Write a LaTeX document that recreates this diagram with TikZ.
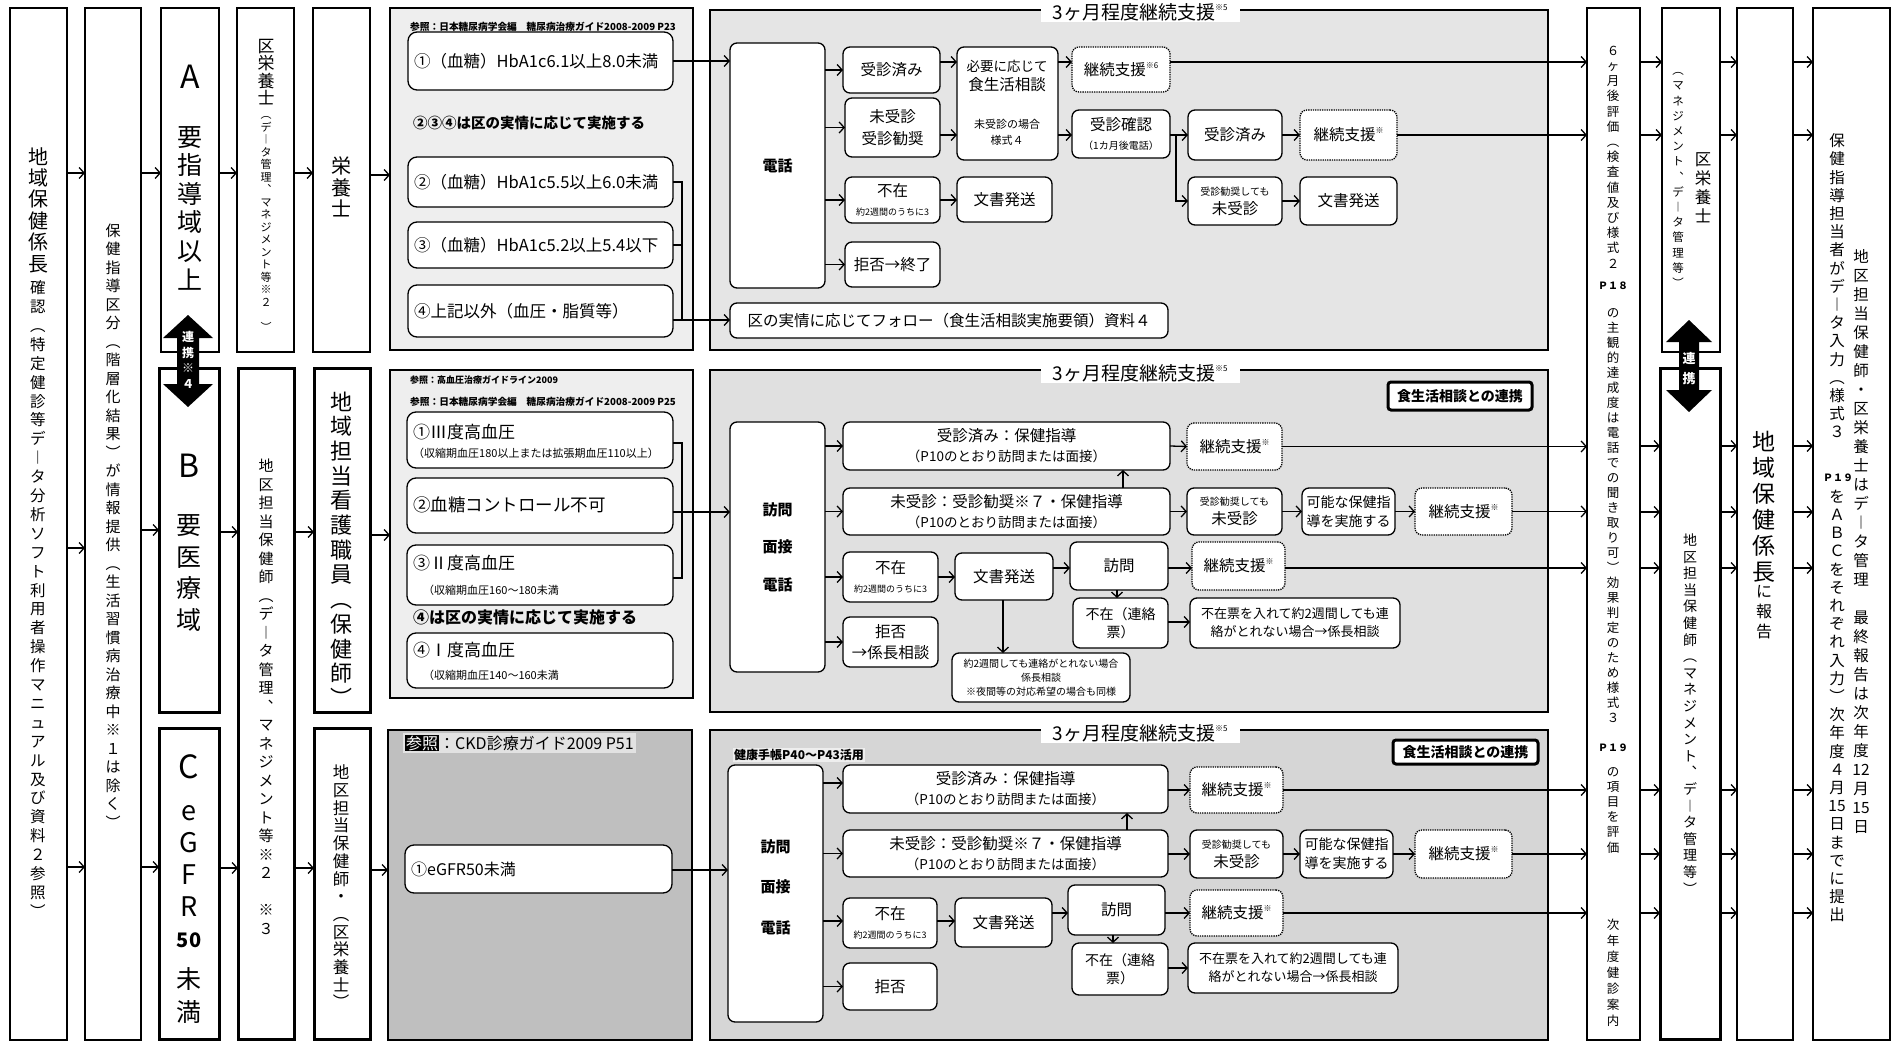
\documentclass[tikz,border=0pt]{standalone}
\usepackage{fontspec}
\setmainfont{Noto Sans CJK JP}
\usetikzlibrary{arrows.meta}
\makeatletter
\def\vt@app#1{\ifx\vt@acc\@empty\def\vt@acc{#1}\else\expandafter\def\expandafter\vt@acc\expandafter{\vt@acc\\#1}\fi}
\newcommand\vtext[1]{\let\vt@acc\@empty\@tfor\vt@c:=#1\do{\expandafter\vt@app\expandafter{\vt@c}}\vt@acc}
\makeatother
\newcommand\fs[2]{\fontsize{#1}{#2}\selectfont}
\newcommand\bx[7][]{\node[inner sep=0pt,outer sep=0pt,minimum width={#4-#2},minimum height={#5-#3},#1] (#6) at ({(#2+#4)/2},{(#3+#5)/2}) {#7};}
\newcommand\sm[1]{\raisebox{.45em}{\fs{8}{8}#1}}
\begin{document}
\begin{tikzpicture}[x=1pt,y=-1pt,
  col/.style={draw,line width=1.1pt,fill=white},
  tcol/.style={draw,line width=3pt,fill=white},
  pan/.style={draw,line width=1.2pt},
  rb/.style={draw,line width=1.3pt,rounded corners=7pt,fill=white,align=center,font=\fs{15.5}{19}},
  db/.style={rb,densely dotted},
  lb/.style={draw,line width=1.3pt,rounded corners=9pt,fill=white},
  vt/.style={align=center,inner sep=0pt},
  tx/.style={inner sep=0pt,anchor=west},
  arr/.style={line width=1.3pt,-{Straight Barb[length=5pt,width=11pt]}},
  ln/.style={line width=1.3pt},
  ttl/.style={fill=white,inner xsep=12pt,inner ysep=1pt,font=\fs{19}{20}},
]
\useasboundingbox (0,0) rectangle (1896,1043);
\fill[white] (0,0) rectangle (1896,1043);

% ---------------- left columns
\bx[col]{10}{8}{67}{1040}{c1}{}
\bx[col]{85}{8}{141}{1040}{c2}{}
\bx[col]{161}{8}{219}{352}{cA}{}
\bx[tcol]{159}{368}{219}{712}{cB}{}
\bx[tcol]{159}{728}{219}{1039}{cC}{}
\bx[col]{237}{8}{294}{352}{d1}{}
\bx[tcol]{238}{368}{294}{1039}{d2}{}
\bx[col]{313}{8}{370}{352}{e1}{}
\bx[tcol]{314}{368}{370}{712}{e2}{}
\bx[tcol]{314}{728}{370}{1039}{e3}{}

\node[vt,font=\fs{20}{21.4}] (c1t1) at (38,210) {\vtext{地域保健係長}};
\node[vt,font=\fs{15.5}{18.9}] (c1t2) at (38,599) {\vtext{確認︵特定健診等デ︱タ分析ソフト利用者操作マニュアル及び資料２参照︶}};
\node[vt,font=\fs{15}{18.5}] (c2t) at (113,526) {\vtext{保健指導区分︵階層化結果︶が情報提供︵生活習慣病治療中※１は除く︶}};
\node[font=\fs{32}{32},inner sep=0pt] (cAt1) at (190,77) {A};
\node[vt,font=\fs{25}{28.6}] (cAt2) at (190,208) {\vtext{要指導域以上}};
\node[font=\fs{32}{32},inner sep=0pt] (cBt1) at (189,466) {B};
\node[vt,font=\fs{25}{31.5}] (cBt2) at (189,573) {\vtext{要医療域}};
\node[font=\fs{32}{32},inner sep=0pt] (cCt1) at (189,767) {C};
\node[vt,font=\fs{27}{32}] (cCt2) at (189,861) {\vtext{eGFR}};
\node[font=\bfseries\fs{20}{20},inner sep=0pt] (cCt3) at (189,940) {50};
\node[vt,font=\fs{25}{33}] (cCt4) at (189,995) {\vtext{未満}};
\node[vt,font=\fs{17}{17.5}] (d1t1) at (266,72) {\vtext{区栄養士}};
\node[vt,font=\fs{11}{12.5}] (d1t2) at (266,224) {\vtext{︵デ︱タ管理︑マネジメント等※２{\mbox{}}︶}};
\node[vt,font=\fs{15}{18.5}] (d2t) at (266,697) {\vtext{地区担当保健師︵デ︱タ管理︑マネジメント等※２{\mbox{}}※３}};
\node[vt,font=\fs{20}{21.5}] (e1t) at (341,187) {\vtext{栄養士}};
\node[vt,font=\fs{22}{24.7}] (e2t) at (341,549) {\vtext{地域担当看護職員︵保健師︶}};
\node[vt,font=\fs{16.5}{17.7}] (e3t) at (341,887) {\vtext{地区担当保健師・︵区栄養士︶}};

% ---------------- panels
\bx[pan,fill=gray!13]{390}{8}{693}{350}{p1l}{}
\bx[pan,fill=gray!20]{710}{10}{1548}{350}{p1r}{}
\bx[pan,fill=gray!13]{390}{370}{693}{698}{p2l}{}
\bx[pan,fill=gray!24]{710}{370}{1548}{712}{p2r}{}
\bx[pan,fill=gray!50]{388}{730}{692}{1040}{p3l}{}
\bx[pan,fill=gray!32]{710}{730}{1548}{1040}{p3r}{}
\node[ttl] (t1) at (1140,12) {3ヶ月程度継続支援\sm{※5}};
\node[ttl] (t2) at (1140,373) {3ヶ月程度継続支援\sm{※5}};
\node[ttl] (t3) at (1140,733) {3ヶ月程度継続支援\sm{※5}};

% ---------------- top-left
\node[tx,font=\bfseries\fs{9.7}{10}] (ref1) at (410,27) {参照：日本糖尿病学会編　糖尿病治療ガイド2008-2009 P23};
\bx[lb]{408}{32}{673}{90}{a1}{}
\node[tx,font=\fs{16.5}{17}] (a1t) at ([xshift=6pt]a1.west) {①（血糖）HbA1c6.1以上8.0未満};
\node[tx,font=\bfseries\fs{14.5}{15}] (n1) at (413,123) {②③④は区の実情に応じて実施する};
\bx[lb]{408}{157}{673}{207}{a2}{}
\node[tx,font=\fs{16.5}{17}] (a2t) at ([xshift=6pt]a2.west) {②（血糖）HbA1c5.5以上6.0未満};
\bx[lb]{408}{222}{673}{268}{a3}{}
\node[tx,font=\fs{16.5}{17}] (a3t) at ([xshift=6pt]a3.west) {③（血糖）HbA1c5.2以上5.4以下};
\bx[lb]{408}{285}{673}{337}{a4}{}
\node[tx,font=\fs{16.5}{17}] (a4t) at ([xshift=6pt]a4.west) {④上記以外（血圧・脂質等）};

% ---------------- top-right
\bx[rb,font=\bfseries\fs{15}{18}]{730}{43}{825}{288}{tel}{電話}
\bx[rb]{843}{47}{940}{93}{ts1}{受診済み}
\bx[rb,font=\fs{15.5}{22}]{845}{98}{940}{157}{ts2}{未受診\\受診勧奨}
\bx[rb]{845}{177}{940}{223}{ts3}{不在\\{\fs{9}{10}約2週間のうちに3}}
\bx[rb]{845}{242}{940}{287}{ts4}{拒否→終了}
\bx[rb]{957}{47}{1058}{160}{need}{}
\node[vt,font=\fs{15.5}{19}] (needt1) at (1007,76) {{\fs{13.5}{15}必要に応じて}\\食生活相談};
\node[vt,font=\fs{11}{16}] (needt2) at (1007,132) {未受診の場合\\様式４};
\bx[rb]{957}{177}{1052}{222}{doc1}{文書発送}
\bx[db]{1072}{47}{1170}{92}{cont6}{継続支援\sm{※6}}
\bx[rb]{1072}{110}{1170}{158}{conf}{受診確認\\{\fs{10}{11}（1カ月後電話）}}
\bx[rb]{1188}{110}{1282}{160}{js2}{受診済み}
\bx[db]{1300}{110}{1397}{160}{cont2}{継続支援\sm{※}}
\bx[rb]{1188}{177}{1282}{225}{nv}{{\fs{10}{11}受診勧奨しても}\\未受診}
\bx[rb]{1300}{177}{1397}{225}{doc2}{文書発送}
\bx[rb]{730}{303}{1168}{338}{follow}{区の実情に応じてフォロー（食生活相談実施要領）資料４}

% ---------------- middle-left
\node[tx,font=\bfseries\fs{9}{10}] (ref2a) at (410,380) {参照：高血圧治療ガイドライン2009};
\node[tx,font=\bfseries\fs{9.7}{10}] (ref2b) at (410,402) {参照：日本糖尿病学会編　糖尿病治療ガイド2008-2009 P25};
\bx[lb]{407}{412}{673}{468}{m1}{}
\node[tx,font=\fs{17}{17}] (m1t1) at (413,432) {①Ⅲ度高血圧};
\node[tx,font=\fs{11}{11}] (m1t2) at (413,453) {（収縮期血圧180以上または拡張期血圧110以上）};
\bx[lb]{407}{478}{673}{533}{m2}{}
\node[tx,font=\fs{17.5}{18}] (m2t) at (413,505) {②血糖コントロール不可};
\bx[lb]{407}{545}{673}{605}{m3}{}
\node[tx,font=\fs{17}{17}] (m3t1) at (413,563) {③Ⅱ度高血圧};
\node[tx,font=\fs{11}{11}] (m3t2) at (423,590) {（収縮期血圧160～180未満};
\node[tx,font=\bfseries\fs{16}{16}] (n2) at (413,617) {④は区の実情に応じて実施する};
\bx[lb]{407}{633}{673}{688}{m4}{}
\node[tx,font=\fs{17}{17}] (m4t1) at (413,650) {④Ⅰ度高血圧};
\node[tx,font=\fs{11}{11}] (m4t2) at (423,675) {（収縮期血圧140～160未満};

% ---------------- middle-right
\bx[rb,font=\bfseries\fs{15}{37.5}]{730}{422}{825}{672}{mtel}{訪問\\面接\\電話}
\bx[rb,font=\fs{15.5}{20}]{843}{422}{1170}{470}{mjs}{受診済み：保健指導\\{\fs{13.5}{14}（P10のとおり訪問または面接）}}
\bx[rb,font=\fs{15.5}{20}]{843}{488}{1170}{535}{mnv}{未受診：受診勧奨※７・保健指導\\{\fs{13.5}{14}（P10のとおり訪問または面接）}}
\bx[rb]{843}{552}{938}{602}{mab}{不在\\{\fs{9}{10}約2週間のうちに3}}
\bx[rb,font=\fs{15.5}{21}]{843}{617}{938}{667}{mref}{拒否\\→係長相談}
\bx[rb]{955}{553}{1053}{600}{mdoc}{文書発送}
\bx[rb]{1070}{542}{1168}{590}{mvis}{訪問}
\bx[rb,font=\fs{14}{18}]{1073}{598}{1168}{648}{mabs}{不在（連絡\\票）}
\bx[rb,font=\fs{10}{14}]{952}{653}{1130}{702}{mcall}{約2週間しても連絡がとれない場合\\係長相談\\※夜間等の対応希望の場合も同様}
\bx[db]{1187}{423}{1282}{470}{mcont1}{継続支援\sm{※}}
\bx[rb]{1187}{488}{1282}{535}{mnv2}{{\fs{10}{11}受診勧奨しても}\\未受診}
\bx[rb,font=\fs{14}{19}]{1302}{488}{1395}{535}{mposs}{可能な保健指\\導を実施する}
\bx[db]{1415}{488}{1512}{535}{mcont2}{継続支援\sm{※}}
\bx[db]{1192}{542}{1285}{590}{mcont3}{継続支援\sm{※}}
\bx[rb,font=\fs{13}{18}]{1190}{598}{1400}{648}{mnote}{不在票を入れて約2週間しても連\\絡がとれない場合→係長相談}
\bx[draw,line width=3pt,rounded corners=3pt,fill=white,font=\bfseries\fs{14}{14}]{1388}{382}{1532}{410}{mlink}{食生活相談との連携}

% ---------------- bottom-left
\node[tx,font=\fs{16}{16},fill=white,fill opacity=0.55,text opacity=1,inner sep=2pt] (ref3) at (403,743) {\setlength{\fboxsep}{1pt}\colorbox{black}{\textcolor{white}{参照}}：CKD診療ガイド2009 P51};
\bx[lb]{405}{845}{672}{893}{beg}{}
\node[tx,font=\fs{16}{16}] (begt) at ([xshift=6pt]beg.west) {①eGFR50未満};

% ---------------- bottom-right
\node[tx,font=\bfseries\fs{12}{12},fill=white,fill opacity=0.6,text opacity=1,inner sep=1pt] (bref0) at (733,755) {健康手帳P40～P43活用};
\bx[rb]{728}{765}{823}{1022}{btel}{}
\node[vt,font=\bfseries\fs{15}{40.5}] (btelt) at (775.5,887) {訪問\\面接\\電話};
\bx[rb,font=\fs{15.5}{20}]{843}{765}{1168}{813}{bjs}{受診済み：保健指導\\{\fs{13.5}{14}（P10のとおり訪問または面接）}}
\bx[rb,font=\fs{15.5}{20}]{843}{830}{1168}{877}{bnv}{未受診：受診勧奨※７・保健指導\\{\fs{13.5}{14}（P10のとおり訪問または面接）}}
\bx[rb]{843}{898}{937}{948}{bab}{不在\\{\fs{9}{10}約2週間のうちに3}}
\bx[rb]{843}{963}{937}{1010}{bref}{拒否}
\bx[rb]{955}{898}{1052}{947}{bdoc}{文書発送}
\bx[rb]{1068}{885}{1165}{935}{bvis}{訪問}
\bx[rb,font=\fs{14}{18}]{1072}{943}{1168}{995}{babs}{不在（連絡\\票）}
\bx[db]{1190}{767}{1283}{813}{bcont1}{継続支援\sm{※}}
\bx[rb]{1190}{830}{1283}{878}{bnv2}{{\fs{10}{11}受診勧奨しても}\\未受診}
\bx[rb,font=\fs{14}{19}]{1300}{830}{1393}{878}{bposs}{可能な保健指\\導を実施する}
\bx[db]{1415}{830}{1512}{878}{bcont2}{継続支援\sm{※}}
\bx[db]{1190}{890}{1283}{936}{bcont3}{継続支援\sm{※}}
\bx[rb,font=\fs{13}{18}]{1188}{943}{1398}{993}{bnote}{不在票を入れて約2週間しても連\\絡がとれない場合→係長相談}
\bx[draw,line width=3pt,rounded corners=3pt,fill=white,font=\bfseries\fs{14}{14}]{1393}{740}{1538}{764}{blink}{食生活相談との連携}

% ---------------- right columns
\bx[col]{1587}{8}{1640}{1040}{r1}{}
\bx[col]{1662}{8}{1720}{352}{r2a}{}
\bx[tcol]{1660}{368}{1720}{1039}{r2b}{}
\bx[col]{1737}{8}{1793}{1040}{r3}{}
\bx[col]{1813}{8}{1890}{1040}{r4}{}
\node[vt,font=\fs{12.5}{15.2}] (r1t1) at (1613,157) {\vtext{６ヶ月後評価︵検査値及び様式２}};
\node[font=\bfseries\fs{10}{10},inner sep=0pt] (r1p1) at (1613,286) {Ｐ１８};
\node[vt,font=\fs{12.5}{15}] (r1t2) at (1613,516) {\vtext{の主観的達成度は電話での聞き取り可︶効果判定のため様式３}};
\node[font=\bfseries\fs{10}{10},inner sep=0pt] (r1p2) at (1613,748) {Ｐ１９};
\node[vt,font=\fs{12.5}{15.2}] (r1t3) at (1613,810) {\vtext{の項目を評価}};
\node[vt,font=\fs{12.5}{16}] (r1t4) at (1613,973) {\vtext{次年度健診案内}};
\node[vt,font=\fs{16.5}{19}] (r2t1) at (1703,188) {\vtext{区栄養士}};
\node[vt,font=\fs{11.5}{15.2}] (r2t2) at (1678,180) {\vtext{︵マネジメント︑デ︱タ管理等︶}};
\node[vt,font=\fs{14}{16.6}] (r2t3) at (1690,714) {\vtext{地区担当保健師︵マネジメント︑デ︱タ管理等︶}};
\node[vt,font=\fs{23}{26}] (r3t1) at (1764,507) {\vtext{地域保健係長}};
\node[vt,font=\fs{16}{20}] (r3t2) at (1764,612) {\vtext{に報告}};
\node[vt,font=\fs{15.5}{19}] (r4t1) at (1861,542) {\vtext{地区担当保健師・区栄養士はデ︱タ管理{\mbox{}}最終報告は次年度{12}月{15}日}};
\node[vt,font=\fs{15.5}{18.2}] (r4t2) at (1837,286) {\vtext{保健指導担当者がデ︱タ入力︵様式３}};
\node[font=\bfseries\fs{10}{10},inner sep=0pt] (r4p) at (1838,478) {Ｐ１９};
\node[vt,font=\fs{15.5}{18.2}] (r4t3) at (1837,706) {\vtext{をＡＢＣをそれぞれ入力︶次年度４月{15}日までに提出}};

% ---------------- double arrows
\fill (188,315) -- (213,338) -- (199,338) -- (199,384) -- (213,384) -- (188,407) -- (163,384) -- (177,384) -- (177,338) -- (163,338) -- cycle;
\node[vt,text=white,font=\bfseries\fs{12}{15.5}] (lk1) at (188,360) {\vtext{連携※４}};
\fill (1689,320) -- (1712,342) -- (1699,342) -- (1699,390) -- (1712,390) -- (1689,412) -- (1666,390) -- (1679,390) -- (1679,342) -- (1666,342) -- cycle;
\node[vt,text=white,font=\bfseries\fs{13}{20}] (lk2) at (1689,369) {\vtext{連携}};

% ---------------- connectors: left columns
\draw[arr] (c1.east |- 0,173) -- (c2.west |- 0,173);
\draw[arr] (c1.east |- 0,548) -- (c2.west |- 0,548);
\draw[arr] (c1.east |- 0,867) -- (c2.west |- 0,867);
\draw[arr] (c2.east |- 0,173) -- (cA.west |- 0,173);
\draw[arr] (c2.east |- 0,530) -- (cB.west |- 0,530);
\draw[arr] (c2.east |- 0,867) -- (cC.west |- 0,867);
\draw[arr] (cA.east |- 0,173) -- (d1.west |- 0,173);
\draw[arr] (cB.east |- 0,532) -- (d2.west |- 0,532);
\draw[arr] (cC.east |- 0,868) -- (d2.west |- 0,868);
\draw[arr] (d1.east |- 0,173) -- (e1.west |- 0,173);
\draw[arr] (d2.east |- 0,532) -- (e2.west |- 0,532);
\draw[arr] (d2.east |- 0,868) -- (e3.west |- 0,868);
\draw[arr] (e1.east |- 0,175) -- (p1l.west |- 0,175);
\draw[arr] (e2.east |- 0,535) -- (p2l.west |- 0,535);
\draw[arr] (e3.east |- 0,870) -- (p3l.west |- 0,870);

% ---------------- connectors: top
\draw[arr] (a1.east) -- (tel.west |- a1.east);
\coordinate (bk1) at (682,320);
\draw[ln] (a2.east) -- (a2.east -| bk1) -- (bk1);
\draw[ln] (a3.east) -- (a3.east -| bk1);
\draw[arr] (a4.east |- bk1) -- (follow.west |- bk1);
\draw[arr] (tel.east |- ts1.west) -- (ts1.west);
\draw[arr] (tel.east |- ts2.west) -- (ts2.west);
\draw[arr] (tel.east |- ts3.west) -- (ts3.west);
\draw[arr] (tel.east |- ts4.west) -- (ts4.west);
\draw[arr] (ts1.east |- 0,62) -- (need.west |- 0,62);
\draw[arr] (ts2.east |- 0,135) -- (need.west |- 0,135);
\draw[arr] (ts3.east) -- (doc1.west |- ts3.east);
\draw[arr] (need.east |- 0,62) -- (cont6.west |- 0,62);
\draw[arr] (need.east |- 0,135) -- (conf.west |- 0,135);
\draw[arr] (cont6.east |- 0,62) -- (r1.west |- 0,62);
\draw[arr] (conf.east |- 0,135) -- (js2.west |- 0,135);
\coordinate (cj) at (1176,135);
\draw[arr] (cj) |- (nv.west);
\draw[arr] (js2.east |- 0,135) -- (cont2.west |- 0,135);
\draw[arr] (cont2.east |- 0,135) -- (r1.west |- 0,135);
\draw[arr] (nv.east) -- (doc2.west |- nv.east);

% ---------------- connectors: middle
\coordinate (bk2) at (682,443);
\coordinate (bk3) at (682,578);
\draw[ln] (m1.east |- bk2) -- (bk2) -- (bk3) -- (m3.east |- bk3);
\draw[arr] (m2.east |- 0,512) -- (mtel.west |- 0,512);
\draw[arr] (mtel.east |- mjs.west) -- (mjs.west);
\draw[arr] (mtel.east |- mnv.west) -- (mnv.west);
\draw[arr] (mtel.east |- mab.west) -- (mab.west);
\draw[arr] (mtel.east |- mref.west) -- (mref.west);
\draw[arr] (mnv.north -| 1123,0) -- (mjs.south -| 1123,0);
\draw[arr] (mjs.east) -- (mcont1.west);
\draw[arr] (mcont1.east) -- (r1.west |- mcont1.east);
\draw[arr] (mnv.east) -- (mnv2.west);
\draw[arr] (mnv2.east) -- (mposs.west);
\draw[arr] (mposs.east) -- (mcont2.west);
\draw[arr] (mcont2.east) -- (r1.west |- mcont2.east);
\draw[arr] (mab.east) -- (mdoc.west |- mab.east);
\draw[arr] (mdoc.east |- 0,568) -- (mvis.west |- 0,568);
\draw[arr] (mvis.east |- 0,568) -- (mcont3.west |- 0,568);
\draw[arr] (mcont3.east |- 0,568) -- (r1.west |- 0,568);
\draw[arr] (mvis.south -| 1117,0) -- (mabs.north -| 1117,0);
\draw[arr] (mabs.east |- 0,622) -- (mnote.west |- 0,622);
\draw[arr] (mdoc.south -| 1003,0) -- (mcall.north -| 1003,0);

% ---------------- connectors: bottom
\draw[arr] (beg.east |- 0,870) -- (btel.west |- 0,870);
\draw[arr] (btel.east |- 0,783) -- (bjs.west |- 0,783);
\draw[arr] (btel.east |- bnv.west) -- (bnv.west);
\draw[arr] (btel.east |- 0,921) -- (bab.west |- 0,921);
\draw[arr] (btel.east |- bref.west) -- (bref.west);
\draw[arr] (bnv.north -| 1127,0) -- (bjs.south -| 1127,0);
\draw[arr] (bjs.east |- bcont1.west) -- (bcont1.west);
\draw[arr] (bcont1.east) -- (r1.west |- bcont1.east);
\draw[arr] (bnv.east |- bnv2.west) -- (bnv2.west);
\draw[arr] (bnv2.east) -- (bposs.west);
\draw[arr] (bposs.east) -- (bcont2.west);
\draw[arr] (bcont2.east) -- (r1.west |- bcont2.east);
\draw[arr] (bab.east |- 0,921) -- (bdoc.west |- 0,921);
\draw[arr] (bdoc.east |- 0,913) -- (bvis.west |- 0,913);
\draw[arr] (bvis.east |- 0,913) -- (bcont3.west |- 0,913);
\draw[arr] (bcont3.east |- 0,913) -- (r1.west |- 0,913);
\draw[arr] (bvis.south -| 1113,0) -- (babs.north -| 1113,0);
\draw[arr] (babs.east |- 0,968) -- (bnote.west |- 0,968);

% ---------------- connectors: right columns
\foreach \yy in {62,135}{
  \draw[arr] (r1.east |- 0,\yy) -- (r2a.west |- 0,\yy);
  \draw[arr] (r2a.east |- 0,\yy) -- (r3.west |- 0,\yy);}
\foreach \yy in {446,512,568,790,854,913}{
  \draw[arr] (r1.east |- 0,\yy) -- (r2b.west |- 0,\yy);
  \draw[arr] (r2b.east |- 0,\yy) -- (r3.west |- 0,\yy);}
\foreach \yy in {62,135,446,512,568,790,854,913}{
  \draw[arr] (r3.east |- 0,\yy) -- (r4.west |- 0,\yy);}
\end{tikzpicture}
\end{document}
